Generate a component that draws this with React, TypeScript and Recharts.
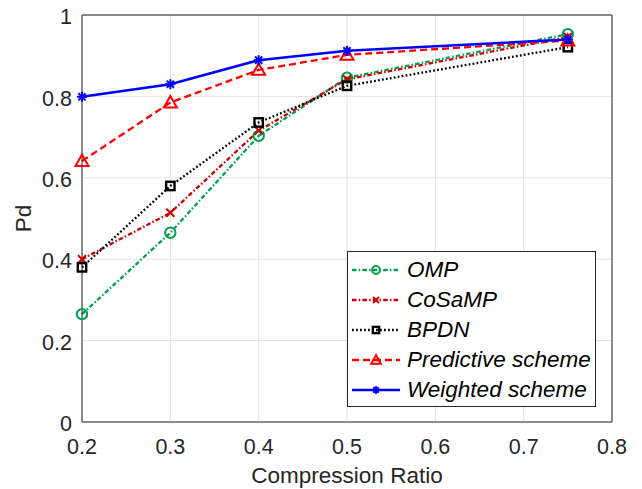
import { CartesianGrid, Legend, Line, LineChart, XAxis, YAxis } from "recharts"

const ratios = [0.2, 0.3, 0.4, 0.5, 0.75]
const omp = [0.265, 0.465, 0.703, 0.846, 0.953]
const cosamp = [0.4, 0.514, 0.716, 0.842, 0.946]
const bpdn = [0.38, 0.58, 0.736, 0.826, 0.921]
const predictive = [0.641, 0.785, 0.865, 0.902, 0.937]
const weighted = [0.799, 0.83, 0.889, 0.912, 0.94]

const xTicks = [0.2, 0.3, 0.4, 0.5, 0.6, 0.7, 0.8]
const yTicks = [0, 0.2, 0.4, 0.6, 0.8, 1]

const FONT = '"Liberation Sans", Arial, Helvetica, sans-serif'
const AXIS = "#262626"

const data = ratios.map((r, i) => ({
  ratio: r,
  OMP: omp[i],
  CoSaMP: cosamp[i],
  BPDN: bpdn[i],
  "Predictive scheme": predictive[i],
  "Weighted scheme": weighted[i],
}))

type Kind = "circle" | "cross" | "square" | "triangle" | "star"

const series: { key: string; color: string; dash?: string; width: number; marker: Kind }[] = [
  { key: "OMP", color: "#00a050", dash: "4.5 2.2 1.5 2.2", width: 2.3, marker: "circle" },
  { key: "CoSaMP", color: "#c80000", dash: "4.5 2.2 1.5 2.2", width: 2.3, marker: "cross" },
  { key: "BPDN", color: "#000000", dash: "1.8 2.2", width: 2.3, marker: "square" },
  { key: "Predictive scheme", color: "#ff0000", dash: "7 4", width: 2.3, marker: "triangle" },
  { key: "Weighted scheme", color: "#0000ff", width: 2.5, marker: "star" },
]

function Marker({ kind, x, y, color, scale = 1 }: { kind: Kind; x: number; y: number; color: string; scale?: number }) {
  const common = { stroke: color, strokeWidth: 2, fill: "none" }
  if (kind === "circle") return <circle cx={x} cy={y} r={5.2 * scale} {...common} />
  if (kind === "cross") {
    const d = 4 * scale
    return (
      <g {...common}>
        <line x1={x - d} y1={y - d} x2={x + d} y2={y + d} />
        <line x1={x - d} y1={y + d} x2={x + d} y2={y - d} />
      </g>
    )
  }
  if (kind === "square") {
    const d = 4.2 * scale
    return <rect x={x - d} y={y - d} width={2 * d} height={2 * d} {...common} strokeWidth={2.4} />
  }
  if (kind === "triangle") {
    const d = 6.5 * scale
    return <polygon points={`${x},${y - d} ${x - d},${y + d * 0.75} ${x + d},${y + d * 0.75}`} {...common} />
  }
  const d = 5 * scale
  const e = d * 0.72
  return (
    <g {...common}>
      <line x1={x - d} y1={y} x2={x + d} y2={y} />
      <line x1={x} y1={y - d} x2={x} y2={y + d} />
      <line x1={x - e} y1={y - e} x2={x + e} y2={y + e} />
      <line x1={x - e} y1={y + e} x2={x + e} y2={y - e} />
    </g>
  )
}

// legend keeps the plotting order, not recharts' payload order
function LegendBox() {
  return (
    <div style={{ border: `1px solid ${AXIS}`, background: "#fff", paddingTop: 3, paddingBottom: 1, width: 247 }}>
      {series.map((s) => (
        <div key={s.key} style={{ display: "flex", alignItems: "center", height: 30 }}>
          <svg width={48} height={16} style={{ marginLeft: 4, marginRight: 7, flex: "none" }}>
            <line x1={0} y1={8} x2={48} y2={8} stroke={s.color} strokeWidth={2.3} strokeDasharray={s.dash} />
            <Marker kind={s.marker} x={24} y={8} color={s.color} scale={0.75} />
          </svg>
          <span style={{ fontStyle: "italic", fontSize: 22.5, fontFamily: FONT, color: "#000", whiteSpace: "nowrap" }}>
            {s.key}
          </span>
        </div>
      ))}
    </div>
  )
}

function YTitle({ viewBox }: any) {
  const cx = viewBox.x + 1
  const cy = viewBox.y + viewBox.height / 2
  return (
    <text x={cx} y={cy} dy="0.36em" transform={`rotate(-90 ${cx} ${cy})`} textAnchor="middle" fontSize={22.5} fill={AXIS} fontFamily={FONT}>
      Pd
    </text>
  )
}

const tickStyle = { fontSize: 21.5, fill: AXIS, fontFamily: FONT }

export default function App() {
  return (
    <div style={{ position: "absolute", left: 0, top: 0, background: "#fff" }}>
      <LineChart width={642} height={489} data={data} margin={{ top: 15, right: 30, bottom: 6, left: 22 }}>
        <CartesianGrid stroke="#e3e3e3" strokeWidth={1} />
        <XAxis
          dataKey="ratio"
          type="number"
          domain={[0.2, 0.8]}
          ticks={xTicks}
          tickLine={false}
          tickSize={6}
          tickMargin={11}
          height={61}
          axisLine={{ stroke: AXIS }}
          tick={tickStyle}
          label={{ value: "Compression Ratio", position: "insideBottom", offset: 0, fontSize: 22.5, fill: AXIS, fontFamily: FONT }}
        />
        <XAxis xAxisId="top" orientation="top" mirror dataKey="ratio" type="number" domain={[0.2, 0.8]} ticks={xTicks} tick={false} tickSize={5} tickLine={{ stroke: AXIS }} axisLine={{ stroke: AXIS }} />
        <XAxis xAxisId="inner" orientation="bottom" mirror dataKey="ratio" type="number" domain={[0.2, 0.8]} ticks={xTicks} tick={false} tickSize={5} tickLine={{ stroke: AXIS }} axisLine={false} />
        <YAxis
          type="number"
          domain={[0, 1]}
          ticks={yTicks}
          width={60}
          tickLine={false}
          tickSize={6}
          tickMargin={4}
          axisLine={{ stroke: AXIS }}
          tick={{ ...tickStyle, dy: 1.5 }}
          label={{ content: YTitle }}
        />
        <YAxis yAxisId="inner" orientation="left" mirror type="number" domain={[0, 1]} ticks={yTicks} tick={false} tickSize={5} tickLine={{ stroke: AXIS }} axisLine={false} />
        <YAxis yAxisId="right" orientation="right" mirror type="number" domain={[0, 1]} ticks={yTicks} tick={false} tickSize={5} tickLine={{ stroke: AXIS }} axisLine={{ stroke: AXIS }} />
        {series.map((s) => (
          <Line
            key={s.key}
            dataKey={s.key}
            type="linear"
            stroke={s.color}
            strokeWidth={s.width}
            strokeDasharray={s.dash}
            isAnimationActive={false}
            dot={(p: any) => (
              <g key={`${s.key}-${p.index}`}>
                <Marker kind={s.marker} x={p.cx} y={p.cy} color={s.color} />
              </g>
            )}
            activeDot={false}
          />
        ))}
        <Legend
          layout="vertical"
          align="center"
          verticalAlign="middle"
          wrapperStyle={{ left: 347, top: 251 }}
          content={<LegendBox />}
        />
      </LineChart>
    </div>
  )
}
